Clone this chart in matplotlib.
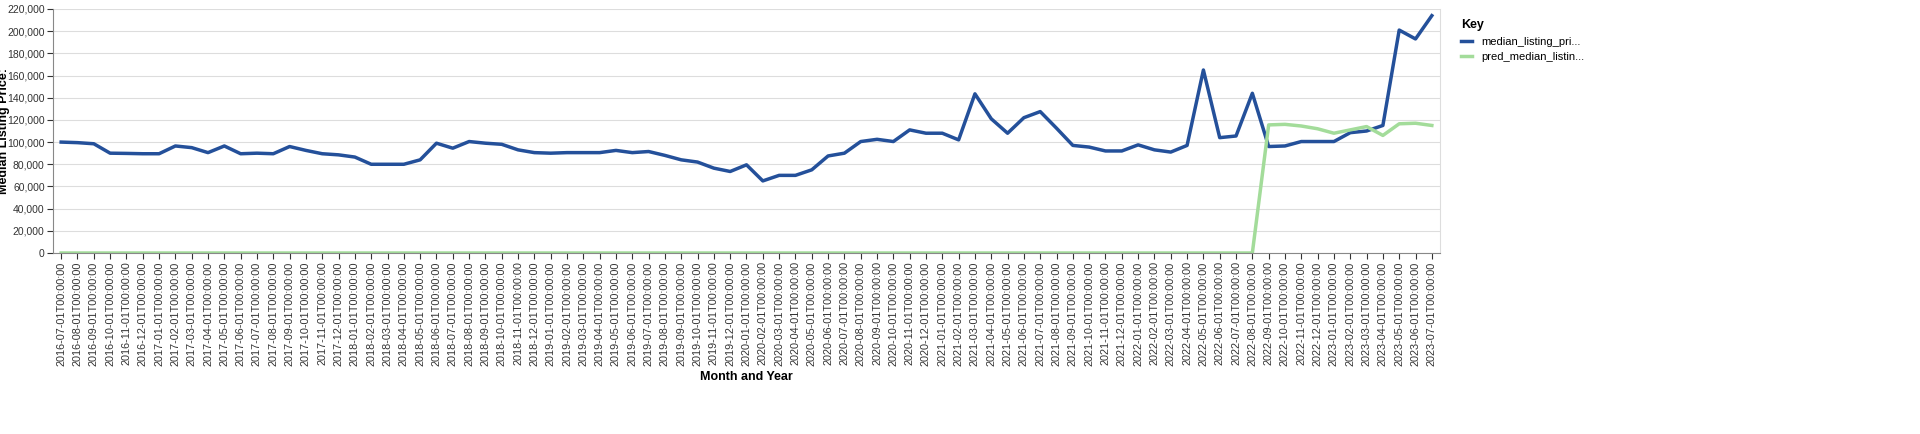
import matplotlib
matplotlib.use("Agg")
import matplotlib.pyplot as plt
import pandas as pd

plt.rcParams['font.family'] = ['Liberation Sans', 'DejaVu Sans']

dates = pd.date_range("2016-07-01", "2023-07-01", freq="MS")
labels = [d.strftime("%Y-%m-%dT00:00:00") for d in dates]
median_listing_price = [
    100000, 99500, 98500, 90000, 89800, 89500,
    89500, 96500, 95000, 90500, 96500, 89500, 90000, 89500, 96000, 92500, 89500, 88500,
    86500, 80000, 80000, 80000, 84000, 99000, 94500, 100500, 99000, 98000, 93000, 90500,
    90000, 90500, 90500, 90500, 92500, 90500, 91500, 88000, 84000, 82000, 76500, 73500,
    79500, 65000, 70000, 70000, 75000, 87500, 90000, 100500, 102500, 100500, 111000, 108000,
    108000, 102000, 143500, 121000, 108000, 122000, 127500, 112500, 97000, 95500, 92000, 92000,
    97500, 93000, 91000, 97000, 165000, 104000, 105500, 144000, 96000, 96500, 100500, 100500,
    100500, 108500, 110000, 115000, 201000, 193000, 214000,
]
pred_median_listing_price = [0] * 74 + [
    115500, 116000, 114500, 112000, 108000, 111000, 114000, 106000, 116500, 117000, 115000,
]

fig = plt.figure(figsize=(19.2, 4.34), dpi=100)
ax = fig.add_axes([53/1920, 1 - 253/434, (1440-53)/1920, (253-9)/434])
x = list(range(len(labels)))
ax.plot(x, median_listing_price, color="#24509a", lw=2.5, label="median_listing_pri...")
ax.plot(x, pred_median_listing_price, color="#a3dc9a", lw=2.5, label="pred_median_listin...")
ax.set_xlim(-0.5, len(labels) - 0.5)
ax.set_ylim(0, 220000)
ax.set_yticks(range(0, 220001, 20000))
ax.set_yticklabels([f"{v:,}" for v in range(0, 220001, 20000)], fontsize=7.5)
ax.set_xticks(x)
ax.set_xticklabels(labels, rotation=90, fontsize=7.8)
ax.grid(axis='y', color='#dddddd', lw=0.8)
ax.set_axisbelow(True)
ax.spines['top'].set_visible(False)
ax.spines['right'].set_color('#dddddd')
ax.spines['left'].set_color('#888888')
ax.spines['bottom'].set_color('#888888')
ax.tick_params(colors='#333333', length=4, pad=2)
ax.set_ylabel("Median Listing Price:", fontsize=9, fontweight='bold')
ax.yaxis.set_label_coords(-0.031, 0.5)
ax.set_xlabel("Month and Year", fontsize=9, fontweight='bold')
leg = ax.legend(loc='upper left', bbox_to_anchor=(1.008, 1.0), frameon=False, title="Key",
                fontsize=8, handlelength=1.0, alignment='left', title_fontsize=9)
leg.get_title().set_fontweight('bold')
fig.savefig("out.png", dpi=100)
